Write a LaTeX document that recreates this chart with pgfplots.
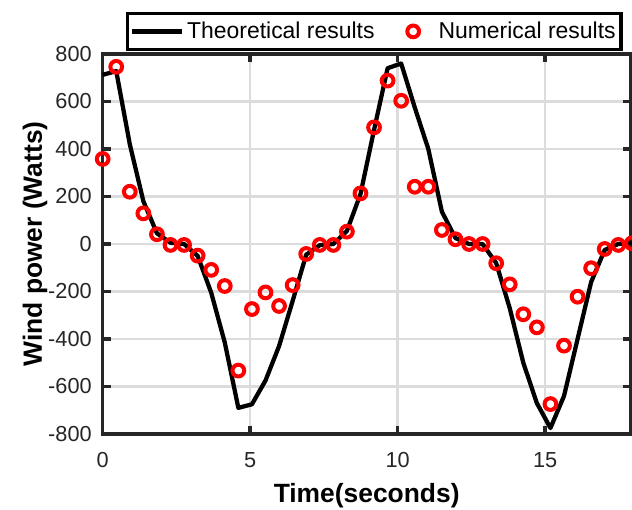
\documentclass[border=0pt]{standalone}
\usepackage{pgfplots}
\pgfplotsset{compat=1.18}
\usepackage{fontspec}
\setmainfont{Liberation Sans}
\definecolor{axgray}{RGB}{38,38,38}
\definecolor{gridgray}{RGB}{220,220,220}

\pgfplotsset{
  lineleg/.style={legend image code/.code={\path[draw=none,fill=none] (0pt,-12.5pt) rectangle (37.5pt,12.5pt);\draw[##1] (0pt,0pt) -- (37.5pt,0pt);}},
  markleg/.style={legend image code/.code={\path[draw=none,fill=none] (0pt,-12.5pt) rectangle (34pt,12.5pt);\draw[##1, mark repeat=2, mark phase=2] plot coordinates {(0pt,0pt) (17pt,0pt) (34pt,0pt)};}},
}

\pgfplotstableread{
x y
0 712
0.46 728
0.92 420
1.38 180
1.84 45
2.30 5
2.76 0
3.22 -50
3.68 -205
4.14 -415
4.60 -690
5.06 -675
5.52 -575
5.98 -430
6.44 -240
6.90 -45
7.36 -5
7.82 0
8.28 55
8.74 210
9.20 480
9.66 740
10.12 760
10.58 575
11.04 400
11.50 136
11.96 25
12.42 0
12.88 0
13.34 -80
13.80 -270
14.26 -500
14.72 -670
15.18 -775
15.64 -640
16.10 -400
16.56 -160
17.02 -25
17.48 0
17.94 5
}\theory

\pgfplotstableread{
x y
0 358
0.46 746
0.92 220
1.38 129
1.84 41
2.30 -4
2.76 -4
3.22 -49
3.68 -109
4.14 -177
4.60 -533
5.06 -274
5.52 -204
5.98 -261
6.44 -173
6.90 -42
7.36 -4
7.82 -4
8.28 52
8.74 213
9.20 491
9.66 688
10.12 603
10.58 241
11.04 241
11.50 59
11.96 20
12.42 0
12.88 0
13.34 -81
13.80 -170
14.26 -296
14.72 -351
15.18 -674
15.64 -428
16.10 -222
16.56 -102
17.02 -21
17.48 -4
17.94 3
}\numer

\begin{document}
\begin{tikzpicture}
\begin{axis}[
  at={(0,0)}, anchor=south west,
  scale only axis, width=396pt, height=285pt,
  xmin=0, xmax=17.9, ymin=-800, ymax=800,
  clip=false,
  xtick={0,5,10,15}, xticklabels={0,5,10,15},
  ytick={-800,-600,-400,-200,0,200,400,600,800},
  yticklabels={-800,-600,-400,-200,0,200,400,600,800},
  tick align=inside, tick pos=both,
  major tick length=6pt,
  grid=major,
  major grid style={gridgray, line width=2pt},
  axis line style={axgray, line width=2.6pt},
  every tick/.style={axgray, line width=2.6pt},
  tick label style={font=\fontsize{16.3}{18}\selectfont, text=axgray},
  xticklabel style={inner sep=0pt, anchor=north, yshift=-13.5pt},
  yticklabel style={inner sep=0pt, anchor=east, xshift=-8pt},
  xlabel={Time(seconds)}, ylabel={Wind power (Watts)},
  label style={font=\fontsize{19.8}{22}\selectfont\bfseries},
  xlabel style={at={([yshift=-51.75pt]axis description cs:0.5,0)}, anchor=base},
  ylabel style={at={([xshift=-45.5pt]axis description cs:0,0.5)}, anchor=base},
  legend columns=2,
  legend style={at={(axis description cs:0.0441,1.111)}, anchor=north west,
    draw=black, line width=2.4pt, fill=white,
    font=\fontsize{17.2}{20}\selectfont, inner xsep=2pt, inner ysep=1pt,
    /tikz/every even column/.append style={column sep=10pt}},
]
\addplot[black, line width=3.2pt, line join=round, lineleg]
  table[x=x,y=y] {\theory};
\addlegendentry{Theoretical results}
\addplot[only marks, mark=o, mark size=4.4pt, red,
  mark options={line width=3pt, draw=red}, markleg]
  table[x=x,y=y] {\numer};
\addlegendentry{Numerical results}
\end{axis}
\pgfresetboundingbox
\path[use as bounding box] (-77pt,-57pt) rectangle (397pt,325.5pt);
\end{tikzpicture}
\end{document}
